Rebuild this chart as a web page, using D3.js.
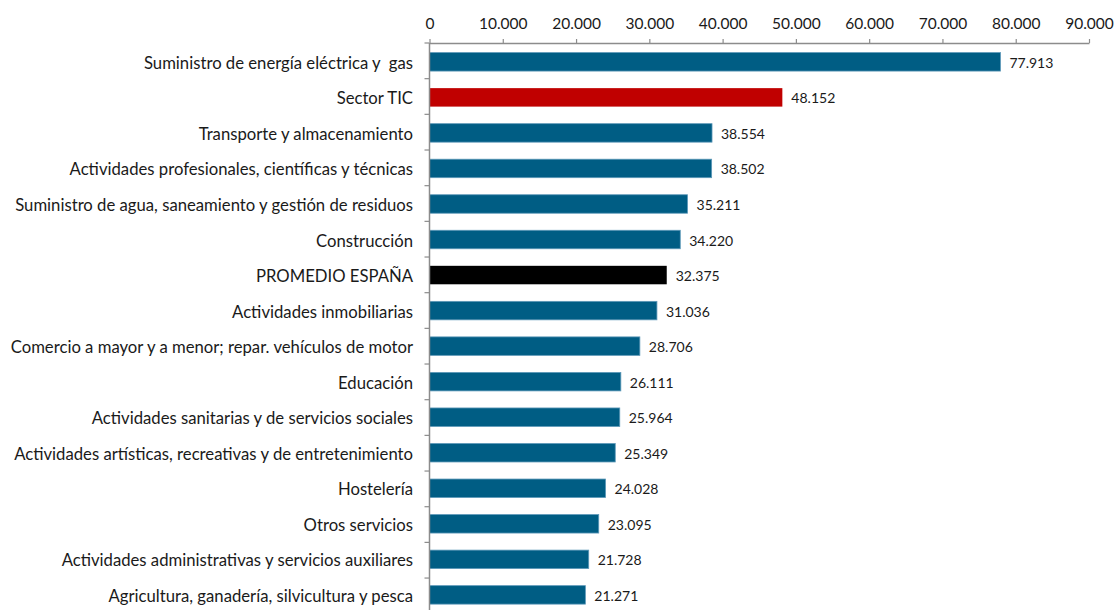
<!DOCTYPE html>
<html>
<head>
<meta charset="utf-8">
<script src="https://cdn.jsdelivr.net/npm/d3@7"></script>
<style>
  html, body { margin: 0; padding: 0; background: #fff; }
  svg { display: block; font-family: Lato, "Open Sans", sans-serif; }
  text { white-space: pre; }
</style>
</head>
<body>
<svg id="chart" width="1117" height="610"></svg>
<script>
// Sector labels, top to bottom
const sectors = [
  "Suministro de energía eléctrica y  gas",
  "Sector TIC",
  "Transporte y almacenamiento",
  "Actividades profesionales, científicas y técnicas",
  "Suministro de agua, saneamiento y gestión de residuos",
  "Construcción",
  "PROMEDIO ESPAÑA",
  "Actividades inmobiliarias",
  "Comercio a mayor y a menor; repar. vehículos de motor",
  "Educación",
  "Actividades sanitarias y de servicios sociales",
  "Actividades artísticas, recreativas y de entretenimiento",
  "Hostelería",
  "Otros servicios",
  "Actividades administrativas y servicios auxiliares",
  "Agricultura, ganadería, silvicultura y pesca"
];
// Average salary per sector (euros)
const salaries = [77913, 48152, 38554, 38502, 35211, 34220, 32375, 31036, 28706, 26111, 25964, 25349, 24028, 23095, 21728, 21271];
const xTicks = [0, 10000, 20000, 30000, 40000, 50000, 60000, 70000, 80000, 90000];

const data = sectors.map((s, i) => ({ sector: s, value: salaries[i] }));

const svg = d3.select("#chart");
const margin = { top: 43, left: 429.5 };
const bandStep = 35.67;

const x = d3.scaleLinear().domain([0, 90000]).range([margin.left, 1089]);
const y = d3.scaleBand()
  .domain(sectors)
  .range([margin.top, margin.top + bandStep * sectors.length])
  .paddingInner(0.48).paddingOuter(0.27);

const fmt = v => d3.format(",")(v).replace(/,/g, ".");
const colorFor = s => s === "Sector TIC" ? "#C00000" : (s === "PROMEDIO ESPAÑA" ? "#000000" : "#005D84");

// Bars
svg.append("g").selectAll("rect").data(data).join("rect")
  .attr("x", x(0))
  .attr("y", d => y(d.sector))
  .attr("width", d => x(d.value) - x(0))
  .attr("height", y.bandwidth())
  .attr("fill", d => colorFor(d.sector))
  .attr("stroke", d => d.sector === "Sector TIC" || d.sector === "PROMEDIO ESPAÑA" ? "none" : "#5d98b8")
  .attr("stroke-width", 0.8);

// Value labels
svg.append("g").selectAll("text").data(data).join("text")
  .attr("x", d => x(d.value) + 9)
  .attr("y", d => y(d.sector) + y.bandwidth() / 2 + 1)
  .attr("dy", "0.36em")
  .attr("font-size", 14)
  .attr("fill", "#1a1a1a")
  .text(d => fmt(d.value));

// Top value axis
const xAxis = svg.append("g")
  .attr("transform", `translate(0,${margin.top})`)
  .call(d3.axisTop(x).tickValues(xTicks).tickFormat(fmt).tickSize(4).tickSizeOuter(0));
xAxis.select(".domain").attr("stroke", "#8c8c8c").attr("stroke-width", 1.5);
xAxis.selectAll(".tick line").attr("stroke", "#8c8c8c").attr("stroke-width", 1.2);
xAxis.selectAll(".tick text")
  .attr("font-family", "Lato, 'Open Sans', sans-serif")
  .attr("font-size", 15.5).attr("fill", "#1a1a1a").attr("y", -14);

// Category axis on the left with ticks between bands
const yAxisG = svg.append("g");
yAxisG.append("line")
  .attr("x1", x(0)).attr("x2", x(0))
  .attr("y1", margin.top).attr("y2", 612)
  .attr("stroke", "#8c8c8c").attr("stroke-width", 1.5);
const boundaries = d3.range(1, sectors.length + 1).map(i => margin.top + i * bandStep);
yAxisG.selectAll("line.sep").data([margin.top, ...boundaries]).join("line")
  .attr("class", "sep")
  .attr("x1", x(0) - 5).attr("x2", x(0))
  .attr("y1", d => d).attr("y2", d => d)
  .attr("stroke", "#8c8c8c").attr("stroke-width", 1.2);
yAxisG.selectAll("text").data(data).join("text")
  .attr("x", 413)
  .attr("y", d => y(d.sector) + y.bandwidth() / 2 + 1)
  .attr("dy", "0.36em")
  .attr("text-anchor", "end")
  .attr("font-size", 16.7)
  .attr("fill", "#1a1a1a")
  .text(d => d.sector);
</script>
</body>
</html>
